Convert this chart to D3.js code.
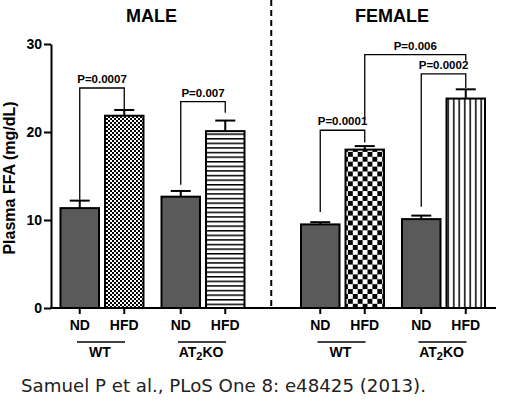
<!DOCTYPE html>
<html>
<head>
<meta charset="utf-8">
<title>Plasma FFA by sex, genotype and diet</title>
<style>
  body { margin: 0; background: #fff; }
  svg { display: block; }
  svg text { font-family: "Liberation Sans", Arial, sans-serif; }
  .tick text { font-size: 14px; font-weight: bold; fill: #000; font-family: "Liberation Sans", Arial, sans-serif; }
  .lbl { font-weight: bold; fill: #000; text-anchor: middle; }
</style>
</head>
<body>
<script src="https://cdn.jsdelivr.net/npm/d3@7"></script>
<script>
// data
var sexes = ["MALE", "FEMALE"];
var genotypes = ["WT", "AT2KO"];
var diets = ["ND", "HFD"];
// order: WT ND, WT HFD, AT2KO ND, AT2KO HFD
var maleMeans = [11.35, 21.85, 12.65, 20.1];
var maleErr = [0.85, 0.65, 0.65, 1.2];
var femaleMeans = [9.5, 18.0, 10.1, 23.8];
var femaleErr = [0.25, 0.4, 0.4, 1.05];
var maleFills = ["solid", "fineCheck", "solid", "hLines"];
var femaleFills = ["solid", "bigCheck", "solid", "vLines"];
var yTicks = [0, 10, 20, 30];

// significance brackets
var bracketLabels = ["P=0.0007", "P=0.007", "P=0.0001", "P=0.006", "P=0.0002"];
var bracketSex = ["MALE", "MALE", "FEMALE", "FEMALE", "FEMALE"];
var bracketFrom = [["WT", "ND"], ["AT2KO", "ND"], ["WT", "ND"], ["WT", "HFD"], ["AT2KO", "ND"]];
var bracketTo = [["WT", "HFD"], ["AT2KO", "HFD"], ["WT", "HFD"], ["AT2KO", "HFD"], ["AT2KO", "HFD"]];
var bracketLevel = [25.0, 23.45, 20.2, 28.8, 26.6];
var bracketLeftEnd = [12.3, 14.0, 10.9, 21.4, 11.5];
var bracketRightEnd = [22.5, 22.2, 18.8, 28.1, 25.0];

var caption = "Samuel P et al., PLoS One 8: e48425 (2013).";

var width = 508, height = 417;
var axisX = 51, axisEnd = 496;

var svg = d3.select("body").append("svg")
  .attr("width", width)
  .attr("height", height);

// scales
var y = d3.scaleLinear().domain([0, 30]).range([308, 44]);
var sexScale = d3.scalePoint().domain(sexes).range([152.5, 393]);
var genoScale = d3.scalePoint().domain(genotypes).range([-50.5, 50.5]);
var dietScale = d3.scaleBand().domain(diets).range([-41.5, 41.5]).paddingInner(0.135);
var bw = dietScale.bandwidth();

function xLeft(sex, geno, diet) {
  return sexScale(sex) + genoScale(geno) + dietScale(diet);
}
function xMid(sex, geno, diet) {
  return xLeft(sex, geno, diet) + bw / 2;
}

// patterns
var defs = svg.append("defs");
var p1 = defs.append("pattern").attr("id", "fineCheck")
  .attr("patternUnits", "userSpaceOnUse").attr("width", 4).attr("height", 4);
p1.append("rect").attr("width", 4).attr("height", 4).attr("fill", "#fff");
p1.append("rect").attr("width", 2).attr("height", 2).attr("fill", "#000");
p1.append("rect").attr("x", 2).attr("y", 2).attr("width", 2).attr("height", 2).attr("fill", "#000");

var p2 = defs.append("pattern").attr("id", "bigCheck")
  .attr("patternUnits", "userSpaceOnUse").attr("width", 9.8).attr("height", 9.8);
p2.append("rect").attr("width", 9.8).attr("height", 9.8).attr("fill", "#fff");
p2.append("rect").attr("width", 4.9).attr("height", 4.9).attr("fill", "#000");
p2.append("rect").attr("x", 4.9).attr("y", 4.9).attr("width", 4.9).attr("height", 4.9).attr("fill", "#000");

var p3 = defs.append("pattern").attr("id", "hLines")
  .attr("patternUnits", "userSpaceOnUse").attr("width", 8).attr("height", 4.6);
p3.append("rect").attr("width", 8).attr("height", 4.6).attr("fill", "#fff");
p3.append("rect").attr("y", 0).attr("width", 8).attr("height", 1.5).attr("fill", "#000");

var p4 = defs.append("pattern").attr("id", "vLines")
  .attr("patternUnits", "userSpaceOnUse").attr("width", 5.5).attr("height", 8);
p4.append("rect").attr("width", 5.5).attr("height", 8).attr("fill", "#fff");
p4.append("rect").attr("x", 2).attr("width", 1.5).attr("height", 8).attr("fill", "#000");

// build bar rows from the arrays
var bars = [];
sexes.forEach(function (sex) {
  var means = sex === "MALE" ? maleMeans : femaleMeans;
  var errs = sex === "MALE" ? maleErr : femaleErr;
  var fills = sex === "MALE" ? maleFills : femaleFills;
  var i = 0;
  genotypes.forEach(function (g) {
    diets.forEach(function (d) {
      bars.push({ sex: sex, geno: g, diet: d, mean: means[i], err: errs[i], fill: fills[i] });
      i++;
    });
  });
});

// error bars (drawn first so bar covers lower half)
var eb = svg.append("g").attr("id", "errors")
  .attr("stroke", "#000").attr("stroke-width", 2);
eb.selectAll("line.v").data(bars).enter().append("line")
  .attr("class", "v")
  .attr("x1", function (d) { return xMid(d.sex, d.geno, d.diet); })
  .attr("x2", function (d) { return xMid(d.sex, d.geno, d.diet); })
  .attr("y1", function (d) { return y(d.mean); })
  .attr("y2", function (d) { return y(d.mean + d.err); });
eb.selectAll("line.c").data(bars).enter().append("line")
  .attr("class", "c")
  .attr("x1", function (d) { return xMid(d.sex, d.geno, d.diet) - 10; })
  .attr("x2", function (d) { return xMid(d.sex, d.geno, d.diet) + 10; })
  .attr("y1", function (d) { return y(d.mean + d.err); })
  .attr("y2", function (d) { return y(d.mean + d.err); });

// bars
svg.append("g").attr("id", "bars")
  .selectAll("rect").data(bars).enter().append("rect")
  .attr("x", function (d) { return xLeft(d.sex, d.geno, d.diet); })
  .attr("y", function (d) { return y(d.mean); })
  .attr("width", bw)
  .attr("height", function (d) { return y(0) - y(d.mean); })
  .attr("fill", function (d) { return d.fill === "solid" ? "#5a5a5a" : "url(#" + d.fill + ")"; })
  .attr("stroke", "#000")
  .attr("stroke-width", 2);

// y axis
var yAxis = svg.append("g").attr("id", "y_axis")
  .attr("transform", "translate(" + axisX + ",0)")
  .call(d3.axisLeft(y).tickValues(yTicks).tickSize(7).tickSizeOuter(0).tickPadding(2));
yAxis.attr("font-family", null).attr("font-size", null);
yAxis.selectAll("path, line").attr("stroke", "#000").attr("stroke-width", 2);

// x axis line and ticks at bar centres
svg.append("line")
  .attr("x1", axisX - 1).attr("x2", axisEnd)
  .attr("y1", y(0)).attr("y2", y(0))
  .attr("stroke", "#000").attr("stroke-width", 2);
svg.append("g").selectAll("line").data(bars).enter().append("line")
  .attr("x1", function (d) { return xMid(d.sex, d.geno, d.diet); })
  .attr("x2", function (d) { return xMid(d.sex, d.geno, d.diet); })
  .attr("y1", y(0)).attr("y2", y(0) + 6)
  .attr("stroke", "#000").attr("stroke-width", 2);

// diet labels
svg.append("g").selectAll("text").data(bars).enter().append("text")
  .attr("class", "lbl")
  .attr("x", function (d) { return xMid(d.sex, d.geno, d.diet); })
  .attr("y", 330)
  .style("font-size", "14px")
  .text(function (d) { return d.diet; });

// genotype underline + label
var groups = [];
sexes.forEach(function (s) { genotypes.forEach(function (g) { groups.push({ sex: s, geno: g }); }); });
svg.append("g").selectAll("line").data(groups).enter().append("line")
  .attr("x1", function (d) { return sexScale(d.sex) + genoScale(d.geno) - 25; })
  .attr("x2", function (d) { return sexScale(d.sex) + genoScale(d.geno) + 23; })
  .attr("y1", 342).attr("y2", 342)
  .attr("stroke", "#000").attr("stroke-width", 1.5);
var gl = svg.append("g").selectAll("text").data(groups).enter().append("text")
  .attr("class", "lbl")
  .attr("x", function (d) { return sexScale(d.sex) + genoScale(d.geno) - 2; })
  .attr("y", 357)
  .style("font-size", "14px");
gl.each(function (d) {
  var t = d3.select(this);
  if (d.geno === "WT") { t.text("WT"); return; }
  t.append("tspan").text("AT");
  t.append("tspan").attr("dy", 3).style("font-size", "11px").text("2");
  t.append("tspan").attr("dy", -3).text("KO");
});

// sex titles
svg.append("g").selectAll("text").data(sexes).enter().append("text")
  .attr("class", "lbl")
  .attr("x", function (d) { return sexScale(d) - 1; })
  .attr("y", 22)
  .style("font-size", "18px")
  .text(function (d) { return d; });

// dashed separator
var sepX = (sexScale("MALE") + sexScale("FEMALE")) / 2 - 1.5;
svg.append("line")
  .attr("x1", sepX).attr("x2", sepX)
  .attr("y1", 0).attr("y2", y(0))
  .attr("stroke", "#000").attr("stroke-width", 2)
  .attr("stroke-dasharray", "6,4");

// y axis title
svg.append("text")
  .attr("class", "lbl")
  .attr("transform", "translate(15," + 178 + ") rotate(-90)")
  .style("font-size", "16px")
  .text("Plasma FFA (mg/dL)");

// brackets
var br = svg.append("g").attr("id", "brackets");
bracketLabels.forEach(function (lab, i) {
  var xa = xMid(bracketSex[i], bracketFrom[i][0], bracketFrom[i][1]);
  var xb = xMid(bracketSex[i], bracketTo[i][0], bracketTo[i][1]);
  var yl = y(bracketLevel[i]);
  br.append("path")
    .attr("d", "M" + xa + "," + y(bracketLeftEnd[i]) + "V" + yl + "H" + xb + "V" + y(bracketRightEnd[i]))
    .attr("fill", "none").attr("stroke", "#000").attr("stroke-width", 1.3);
  br.append("text")
    .attr("class", "lbl")
    .attr("x", (xa + xb) / 2)
    .attr("y", yl - 5)
    .style("font-size", "11.5px")
    .text(lab);
});

// citation
svg.append("text")
  .attr("x", 21)
  .attr("y", 392)
  .attr("textLength", 405)
  .attr("lengthAdjust", "spacingAndGlyphs")
  .style("font-family", "'DejaVu Sans', sans-serif")
  .style("font-size", "17px")
  .style("fill", "#222")
  .text(caption);
</script>
</body>
</html>
